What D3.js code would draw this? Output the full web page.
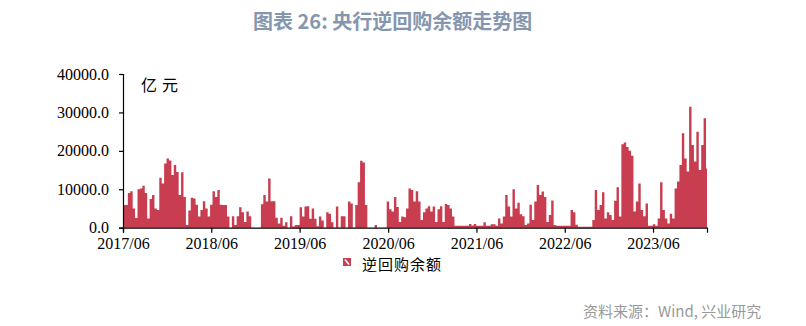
<!DOCTYPE html>
<html>
<head>
<meta charset="utf-8">
<script src="https://cdn.jsdelivr.net/npm/d3@7"></script>
<style>
	body { margin: 0; background: #fff; }
	svg { display: block; }
</style>
</head>
<body>
<svg id="chart" width="806" height="326"></svg>
<script>
/*
Reverse repo balance chart.
One value every 10 days from 2017/06/01 (unit: 亿元).
*/
var startDate = "2017-06-01";
var stepDays = 10;
var endDate = "2024-01-10";

var balance = [
	5900, 5900, 9000, 9500, 5000, 2500, 10000, 10200, 10900, 9000,
	2400, 7500, 8500, 5000, 4600, 13000, 11500, 16700, 18000, 17500,
	13700, 16300, 14500, 8500, 14400, 8000, 700, 4500, 7800, 7600,
	6000, 2900, 4600, 6900, 5000, 2900, 6000, 9500, 8000, 9800,
	6000, 5900, 5900, 2900, 0, 3000, 700, 3000, 5300, 4000,
	1500, 4200, 3000, 0, 0, 0, 0, 6100, 8500, 6800,
	12800, 6900, 6900, 2600, 1100, 2600, 500, 1400, 0, 3000,
	300, 700, 700, 5300, 2900, 5500, 5600, 2300, 5000, 2300,
	400, 2900, 1900, 0, 4000, 3600, 1400, 0, 5500, 0,
	3000, 3000, 0, 6800, 6300, 0, 5900, 11800, 17400, 17000,
	5900, 0, 0, 0, 700, 0, 0, 0, 0, 6800,
	4800, 4200, 8000, 5400, 1500, 2900, 2700, 5000, 10200, 9800,
	6800, 9500, 6800, 2000, 4000, 5000, 5600, 4200, 5500, 1500,
	4800, 5600, 1500, 6200, 5900, 5000, 2900, 500, 500, 500,
	500, 500, 500, 950, 600, 950, 500, 500, 500, 1400,
	500, 500, 900, 900, 500, 2400, 1100, 2900, 8500, 5500,
	2900, 10000, 5000, 6500, 3500, 3000, 700, 1100, 6000, 2000,
	6800, 11100, 8500, 9400, 8000, 1500, 3300, 7100, 700, 500,
	500, 500, 500, 500, 500, 4600, 4000, 800, 250, 250,
	250, 250, 250, 250, 2000, 9800, 4600, 5900, 9200, 2400,
	4000, 3300, 2000, 7000, 10500, 2900, 21700, 22200, 21000, 20000,
	18700, 4200, 6800, 11500, 4600, 3000, 6300, 500, 500, 900,
	500, 2400, 11800, 4600, 2400, 1100, 3600, 2400, 10200, 12000,
	16300, 24600, 18000, 14600, 31500, 21500, 17200, 25000, 15000, 21500,
	28500, 15400
];

var yTicks = [0, 10000, 20000, 30000, 40000];
var xTickLabels = ["2017/06", "2018/06", "2019/06", "2020/06", "2021/06", "2022/06", "2023/06"];

var titleText = "图表 26: 央行逆回购余额走势图";
var unitText = "亿元";
var legendText = "逆回购余额";
var sourceText = "资料来源：Wind, 兴业研究";

var barColor = "#c83e50";
var serif = "'Liberation Serif', 'Times New Roman', serif";
var cjk = "'Noto Sans CJK SC', sans-serif";

var svg = d3.select("#chart");
var parse = d3.timeParse("%Y-%m-%d");
var parseMonth = d3.timeParse("%Y/%m");

var start = parse(startDate);
var data = balance.map(function(v, i){
	return {date: d3.timeDay.offset(start, i * stepDays), value: v};
});
//extra point so the last step has a width
data.push({date: parse(endDate), value: balance[balance.length - 1]});

var x = d3.scaleTime()
.domain([start, parse(endDate)])
.range([123, 707]);

var y = d3.scaleLinear()
.domain([0, 40000])
.range([227.7, 74]);

//filled steps, looks like the dense daily columns
var area = d3.area()
.curve(d3.curveStepAfter)
.x(function(d){ return x(d.date); })
.y0(y(0))
.y1(function(d){ return y(d.value); });

svg.append("path")
.datum(data)
.attr("d", area)
.attr("fill", barColor);

//y axis
var yAxis = d3.axisLeft(y)
.tickValues(yTicks)
.tickFormat(d3.format(".1f"))
.tickSize(4)
.tickPadding(10);

var yG = svg.append("g")
.attr("transform", "translate(123, 0)")
.call(yAxis);

//x axis, ticks only at the June labels
var xAxis = d3.axisBottom(x)
.tickValues(xTickLabels.map(function(s){ return parseMonth(s); }))
.tickFormat(d3.timeFormat("%Y/%m"))
.tickSize(5)
.tickPadding(5);

var xG = svg.append("g")
.attr("transform", "translate(0, 227.7)")
.call(xAxis);

[yG, xG].forEach(function(g){
	g.select(".domain").attr("stroke", "#000").attr("stroke-width", 1.2);
	g.selectAll(".tick line").attr("stroke", "#000").attr("stroke-width", 1.2);
	g.selectAll(".tick text")
	.attr("fill", "#000")
	.style("font-family", serif)
	.style("font-size", "16px");
});

//unit
svg.append("text")
.attr("x", 141)
.attr("y", 91)
.attr("letter-spacing", "5px")
.style("font-family", cjk)
.style("font-size", "16px")
.text(unitText);

//title
svg.append("text")
.attr("x", 253)
.attr("y", 28.5)
.attr("fill", "#8596ae")
.style("font-family", cjk)
.style("font-weight", "bold")
.style("font-size", "20px")
.text(titleText);

//legend
var legend = svg.append("g")
.attr("transform", "translate(343, 258)");

legend.append("rect")
.attr("width", 8)
.attr("height", 8)
.attr("fill", barColor);

legend.append("line")
.attr("x1", 2).attr("y1", 1.5)
.attr("x2", 6).attr("y2", 6.5)
.attr("stroke", "#fff")
.attr("stroke-width", 1.6);

legend.append("text")
.attr("x", 19)
.attr("y", 11.5)
.attr("letter-spacing", "1px")
.style("font-family", cjk)
.style("font-size", "15px")
.text(legendText);

//source
svg.append("text")
.attr("x", 583)
.attr("y", 316.5)
.attr("fill", "#999")
.style("font-family", cjk)
.style("font-size", "15px")
.text(sourceText);
</script>
</body>
</html>
